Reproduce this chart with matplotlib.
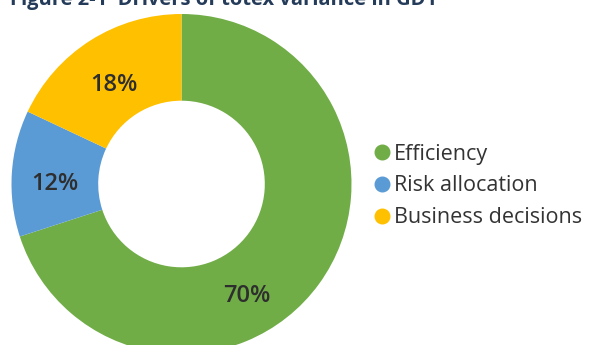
import matplotlib.pyplot as plt
from matplotlib.lines import Line2D
from matplotlib.transforms import offset_copy
import numpy as np

# Share of totex variance by driver
categories = ['Efficiency', 'Risk allocation', 'Business decisions']
shares = [70, 12, 18]
colors = ['#70AD47', '#5B9BD5', '#FFC000']

plt.rcParams['font.family'] = ['Open Sans', 'DejaVu Sans']

fig = plt.figure(figsize=(5.92, 3.45), dpi=100)
ax = fig.add_axes([11.5 / 592, -9 / 345, 340 / 592, 340 / 345])

wedges, texts, autotexts = ax.pie(
    shares, colors=colors, startangle=90, counterclock=False,
    radius=1.0, wedgeprops=dict(width=0.51, linewidth=0),
    autopct='%d%%', pctdistance=0.745,
    textprops=dict(fontsize=17, color='#2E2E2E', fontweight='semibold'))

# drop the percentages a little so they sit in the middle of the ring
for t in autotexts:
    t.set_va('center_baseline')
    t.set_transform(offset_copy(ax.transData, fig=fig, y=-5, units='dots'))

# nudge the big slice label lower round the ring
ang = np.deg2rad(-58)
autotexts[0].set_position((0.72 * np.cos(ang), 0.72 * np.sin(ang)))

ax.set_xlim(-1, 1)
ax.set_ylim(-1, 1)
ax.set_aspect('equal')
ax.axis('off')

handles = [Line2D([0], [0], marker='o', linestyle='none', markersize=10.5,
                  markerfacecolor=c, markeredgecolor=c) for c in colors]
fig.legend(handles, categories, loc='center left',
           bbox_to_anchor=(366 / 592, 1 - 186 / 345), frameon=False,
           fontsize=15.5, handlelength=0.5, handletextpad=0.3,
           labelspacing=0.5, labelcolor='#333333', borderpad=0)

fig.text(10 / 592, 1 - 5 / 345, 'Figure 2-1  Drivers of totex variance in GD1',
         fontsize=14.5, fontweight='bold', color='#243B5A', va='baseline')

fig.savefig('out.png', dpi=100)
